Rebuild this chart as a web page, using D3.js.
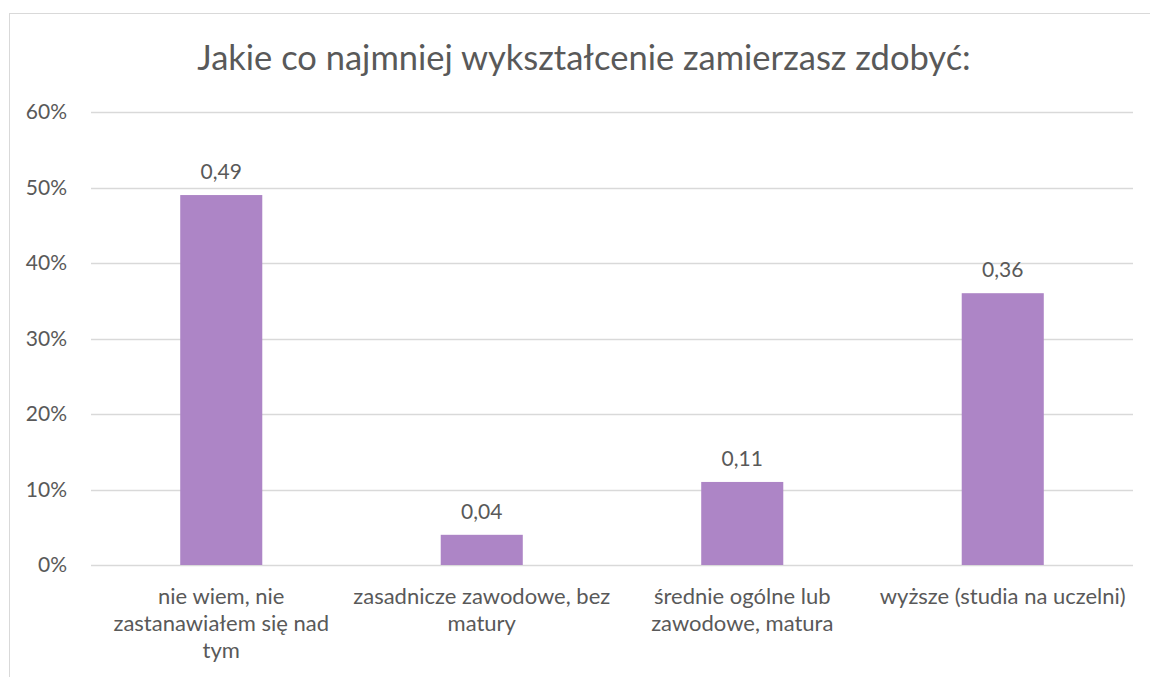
<!DOCTYPE html>
<html>
<head>
  <meta charset="utf-8">
  <title></title>
  <script src="https://cdn.jsdelivr.net/npm/d3@7"></script>
</head>
<style>
  body { margin: 0; background: #fff; }
  text { font-family: Lato, "Open Sans", sans-serif; fill: #595959; }
</style>
<body>
  <div id="chart"></div>
  <script>
    var title = 'Jakie co najmniej wykształcenie zamierzasz zdobyć:';
    var categories = [
      ['nie wiem, nie', 'zastanawiałem się nad', 'tym'],
      ['zasadnicze zawodowe, bez', 'matury'],
      ['średnie ogólne lub', 'zawodowe, matura'],
      ['wyższe (studia na uczelni)']
    ];
    var values = [0.49, 0.04, 0.11, 0.36];
    var yTicks = [0, 0.1, 0.2, 0.3, 0.4, 0.5, 0.6];

    var width = 1150, height = 677;
    var plot = { left: 91, right: 1133, top: 112, bottom: 565 };

    var svg = d3.select('#chart').append('svg')
      .attr('width', width).attr('height', height);

    // chart frame
    svg.append('rect')
      .attr('x', 9.5).attr('y', 13.5)
      .attr('width', 1160).attr('height', 700)
      .attr('fill', 'none').attr('stroke', '#d9d9d9');

    svg.append('text')
      .attr('x', 584).attr('y', 70)
      .attr('text-anchor', 'middle')
      .attr('font-size', 34.5)
      .text(title);

    var x = d3.scaleBand()
      .domain(d3.range(categories.length))
      .range([plot.left, plot.right]);

    var y = d3.scaleLinear()
      .domain([0, 0.6])
      .range([plot.bottom, plot.top]);

    // gridlines
    svg.append('g').selectAll('line')
      .data(yTicks)
      .join('line')
      .attr('x1', plot.left).attr('x2', plot.right)
      .attr('y1', function (d) { return Math.round(y(d)) + 0.5; })
      .attr('y2', function (d) { return Math.round(y(d)) + 0.5; })
      .attr('stroke', '#d9d9d9').attr('stroke-width', 1.3);

    // y axis labels
    var yAxis = d3.axisLeft(y)
      .tickValues(yTicks)
      .tickFormat(d3.format('.0%'))
      .tickSize(0).tickPadding(0);
    var gy = svg.append('g')
      .attr('transform', 'translate(67,0)')
      .call(yAxis);
    gy.select('.domain').remove();
    gy.selectAll('text')
      .attr('font-size', 21)
      .attr('font-family', 'Lato, sans-serif')
      .attr('fill', '#595959');

    var barW = x.bandwidth() * 0.315;

    svg.append('g').selectAll('rect')
      .data(values)
      .join('rect')
      .attr('x', function (d, i) { return x(i) + x.bandwidth() / 2 - barW / 2; })
      .attr('width', barW)
      .attr('y', function (d) { return y(d); })
      .attr('height', function (d) { return y(0) - y(d); })
      .attr('fill', '#ad85c6');

    // data labels
    svg.append('g').selectAll('text')
      .data(values)
      .join('text')
      .attr('x', function (d, i) { return x(i) + x.bandwidth() / 2; })
      .attr('y', function (d) { return y(d) - 16; })
      .attr('text-anchor', 'middle')
      .attr('font-size', 21)
      .text(function (d) { return d3.format('.2f')(d).replace('.', ','); });

    // category labels
    var cat = svg.append('g').selectAll('text')
      .data(categories)
      .join('text')
      .attr('text-anchor', 'middle')
      .attr('font-size', 22)
      .attr('transform', function (d, i) {
        return 'translate(' + (x(i) + x.bandwidth() / 2) + ',' + 604 + ')';
      });
    cat.selectAll('tspan')
      .data(function (d) { return d; })
      .join('tspan')
      .attr('x', 0)
      .attr('y', function (d, j) { return j * 27; })
      .text(function (d) { return d; });
  </script>
</body>
</html>
